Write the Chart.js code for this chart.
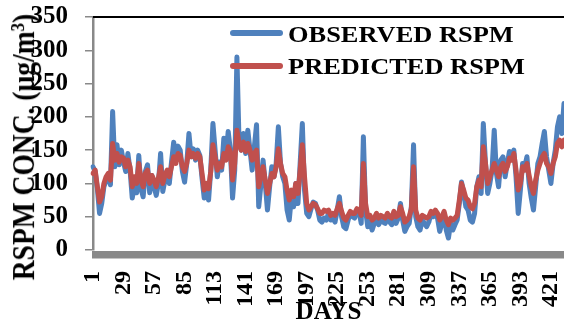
<!DOCTYPE html>
<html>
<head>
<meta charset="utf-8">
<script src="https://cdn.jsdelivr.net/npm/chart.js@4.4.1/dist/chart.umd.min.js"></script>
<style>
  body { margin: 0; background: #fff; }
  #wrap { position: relative; width: 564px; height: 333px; }
  .legend-row { position: absolute; font: bold 24px "Liberation Serif", "Times New Roman", serif; line-height: 24px; color: #000; white-space: nowrap; transform: scaleX(1.1); transform-origin: left center; }
  .legend-line { position: absolute; height: 6px; border-radius: 3px; }
  #top-rule { position: absolute; left: 93px; top: 16px; width: 471px; height: 2px; background: #000; }
  #y-title { position: absolute; left: 23.5px; top: 147px; font: bold 27.5px "Liberation Serif", "Times New Roman", serif; line-height: 28px; color: #000; white-space: nowrap; transform: translate(-50%, -50%) rotate(-90deg) scaleY(1.12); }
  #y-title sup { font-size: 0.62em; line-height: 0; vertical-align: 0.55em; }
</style>
</head>
<body>
<div id="wrap">
  <canvas id="rspm-chart" width="564" height="333"></canvas>
  <div id="top-rule"></div>
  <div id="y-title">RSPM CONC. (µg/m<sup>3</sup>)</div>
  <div class="legend-line" style="left:230px; top:30px; width:53px; background:#4F81BD;"></div>
  <div class="legend-row" style="left:288px; top:22px;">OBSERVED RSPM</div>
  <div class="legend-line" style="left:230px; top:63px; width:53px; background:#C0504D;"></div>
  <div class="legend-row" style="left:288px; top:54px;">PREDICTED RSPM</div>
</div>
<script>
// every second day, 1..433
const days = Array.from({ length: 217 }, (_, i) => 1 + 2 * i);
const xTickDays = [1, 29, 57, 85, 113, 141, 169, 197, 225, 253, 281, 309, 337, 365, 393, 421];
const yTicks = [0, 50, 100, 150, 200, 250, 300, 350];

const observedRspm = [
  125, 118, 92, 55, 70, 95, 105, 110, 98, 208,
  125, 158, 128, 150, 132, 118, 145, 120, 78, 98,
  86, 142, 92, 80, 118, 128, 86, 112, 95, 82,
  100, 145, 88, 105, 118, 100, 132, 162, 138, 156,
  150, 118, 102, 130, 175, 140, 152, 135, 150, 142,
  108, 78, 92, 75, 120, 190, 150, 110, 132, 120,
  168, 140, 178, 150, 78, 120, 290, 160, 150, 175,
  145, 180, 150, 120, 155, 188, 65, 98, 135, 100,
  60, 95, 125, 110, 130, 185, 130, 110, 100, 60,
  45, 80, 65, 100, 70, 130, 190, 90, 55, 50,
  62, 72, 70, 60, 45, 42, 48, 45, 55, 45,
  48, 42, 60, 80, 50, 35, 32, 45, 55, 50,
  48, 60, 58, 40, 170, 60, 35, 42, 30, 40,
  48, 38, 45, 42, 40, 48, 42, 38, 55, 40,
  48, 70, 45, 28, 35, 40, 65, 158, 50, 35,
  30, 45, 40, 35, 42, 55, 50, 58, 48, 28,
  40, 55, 30, 18, 40, 30, 38, 45, 70, 102,
  85, 65, 60, 45, 42, 55, 95, 110, 85, 190,
  130, 85, 100, 120, 180, 115, 95, 135, 140, 110,
  130, 148, 140, 150, 110, 55, 90, 130, 125, 140,
  100, 78, 60, 95, 130, 140, 160, 178, 140, 120,
  100, 130, 150, 185, 200, 175, 220,
];

const predictedRspm = [
  115, 120, 95, 72, 80, 100, 110, 115, 105, 160,
  135, 145, 132, 140, 138, 125, 135, 125, 95, 110,
  100, 130, 105, 95, 115, 120, 100, 112, 105, 95,
  108, 125, 100, 112, 120, 110, 125, 140, 130, 145,
  142, 125, 118, 130, 150, 140, 145, 138, 145, 140,
  115, 90, 100, 92, 118, 158, 140, 120, 130, 125,
  145, 135, 155, 148, 105, 130, 180, 160, 150, 162,
  148, 160, 150, 135, 145, 150, 95, 110, 125, 105,
  85, 100, 115, 110, 125, 152, 130, 115, 110, 90,
  75, 90, 80, 100, 85, 120, 158, 110, 70, 60,
  65, 70, 68, 62, 55, 55, 60, 58, 60, 52,
  55, 52, 62, 70, 58, 48, 45, 52, 58, 55,
  55, 62, 60, 52, 130, 70, 50, 52, 45, 48,
  55, 48, 52, 50, 48, 55, 50, 48, 58, 50,
  52, 65, 55, 42, 45, 50, 62, 125, 60, 48,
  45, 52, 50, 48, 50, 58, 55, 60, 55, 45,
  50, 58, 45, 38, 48, 45, 48, 52, 75, 100,
  90, 78, 75, 65, 62, 70, 95, 105, 95, 155,
  130, 100, 110, 120, 130, 120, 110, 125, 130, 118,
  125, 138, 135, 145, 120, 90, 100, 125, 120, 130,
  112, 95, 85, 105, 120, 130, 140, 145, 130, 125,
  115, 130, 140, 160, 165, 155, 165,
];

const serif = '"Liberation Serif", "Times New Roman", serif';
Chart.defaults.font.family = serif;
Chart.defaults.font.weight = "bold";
Chart.defaults.color = "#000";

// grey band under the plot, like the excel axis
const axisBand = {
  id: "axisBand",
  afterDraw(chart) {
    const { ctx, chartArea } = chart;
    ctx.save();
    ctx.fillStyle = "#898989";
    ctx.fillRect(chartArea.left - 1, chartArea.bottom + 1, chartArea.right - chartArea.left + 1, 7.5);
    ctx.restore();
  },
};

new Chart(document.getElementById("rspm-chart"), {
  type: "line",
  data: {
    labels: days,
    datasets: [
      {
        label: "OBSERVED RSPM",
        data: observedRspm,
        borderColor: "#4F81BD",
        borderWidth: 5,
        pointRadius: 0,
        borderJoinStyle: "round",
        borderCapStyle: "round",
        tension: 0,
        order: 2,
      },
      {
        label: "PREDICTED RSPM",
        data: predictedRspm,
        borderColor: "#C0504D",
        borderWidth: 5,
        pointRadius: 0,
        borderJoinStyle: "round",
        borderCapStyle: "round",
        tension: 0,
        order: 1,
      },
    ],
  },
  options: {
    responsive: false,
    animation: false,
    layout: { padding: { top: 17, left: 0, right: 0, bottom: 0 } },
    plugins: {
      legend: { display: false },
      tooltip: { enabled: false },
    },
    scales: {
      x: {
        type: "category",
        offset: false,
        grid: { display: false, drawTicks: false },
        border: { display: false },
        ticks: {
          autoSkip: false,
          minRotation: 90,
          maxRotation: 90,
          padding: 21,
          font: { size: 24, weight: "bold" },
          callback(value) {
            const day = days[value];
            return xTickDays.includes(day) ? String(day) : null;
          },
        },
        title: {
          display: true,
          text: "DAYS",
          font: { size: 25, weight: "bold" },
          padding: { top: 0, bottom: 5 },
        },
        afterFit(scale) {
          scale.height = 83;
          scale.paddingLeft = 0;
          scale.paddingRight = 0;
        },
      },
      y: {
        min: 0,
        max: 350,
        afterBuildTicks(scale) {
          scale.ticks = yTicks.map((v) => ({ value: v }));
        },
        grid: {
          drawOnChartArea: false,
          color: "#898989",
          tickLength: 8,
          lineWidth: 1.5,
        },
        border: { color: "#898989", width: 2.5 },
        ticks: {
          autoSkip: false,
          padding: 17,
          font: { size: 25, weight: "bold" },
        },
        afterFit(scale) {
          scale.width = 93;
          scale.paddingTop = 0;
          scale.paddingBottom = 0;
        },
      },
    },
  },
  plugins: [axisBand],
});
</script>
</body>
</html>
